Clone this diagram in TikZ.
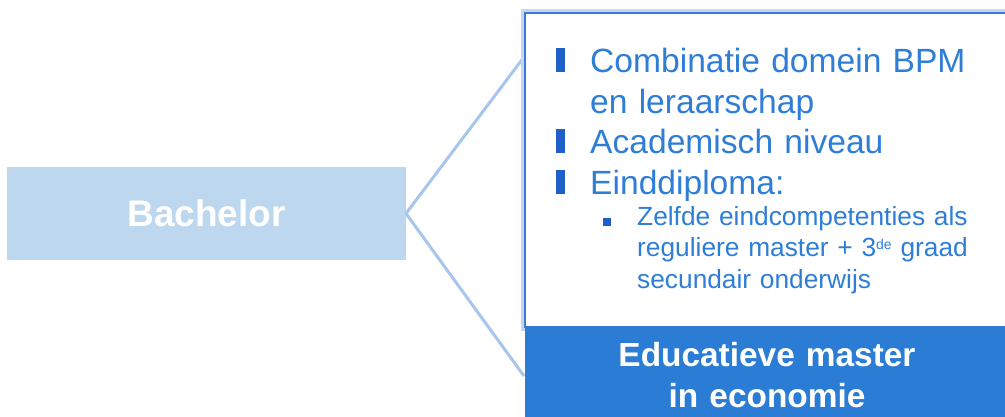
\documentclass[tikz,border=0pt]{standalone}
\usepackage{fontspec}
\setmainfont{Liberation Sans}
\newlength{\du}
\setlength{\du}{1pt}
\definecolor{bachfill}{RGB}{189,215,238}
\definecolor{linkline}{RGB}{168,197,235}
\definecolor{frameblue}{RGB}{58,123,213}
\definecolor{textblue}{RGB}{46,126,216}
\definecolor{bulletblue}{RGB}{31,95,200}
\definecolor{masterfill}{RGB}{42,124,212}
\tikzset{
  box/.style={rectangle, inner sep=0pt, outer sep=0pt},
  link/.style={draw=linkline, line width=3\du},
  item/.style={anchor=base west, inner sep=0pt, text=textblue, align=left,
    text width=400\du, font=\fontsize{33.6}{41}\selectfont},
  subitem/.style={anchor=base west, inner sep=0pt, text=textblue, align=left,
    text width=360\du, font=\fontsize{26.3}{31.5}\selectfont},
  bar/.style={box, anchor=south west, fill=bulletblue, minimum width=9\du, minimum height=24\du},
  dot/.style={box, anchor=south west, fill=bulletblue, minimum width=8\du, minimum height=8\du}
}

\begin{document}
\begin{tikzpicture}
\pgftransformxscale{1.000000}
\pgftransformyscale{-1.000000}
\useasboundingbox (0\du,0\du) rectangle (1005\du,416\du);
% left box
\node[box, fill=bachfill, minimum width=399\du, minimum height=93\du, text=white,
  font=\bfseries\fontsize{37}{44}\selectfont] (bachelor) at (206.5\du,213.5\du) {Bachelor};
\coordinate (topend) at (524\du,57\du);
\coordinate (botend) at (524\du,376\du);
\draw[link] (bachelor.east) -- (topend);
\draw[link] (bachelor.east) -- (botend);
% right boxes
\node[box, fill=white, draw=frameblue, line width=2\du,
  preaction={draw=frameblue!30, line width=8\du},
  minimum width=490\du, minimum height=314\du] (info) at (770\du,170\du) {};
\node[box, fill=masterfill, minimum width=490\du, minimum height=110\du] (master) at (770\du,382\du) {};
\node[anchor=base, inner sep=0pt, text=white, align=center, text width=400\du,
  font=\bfseries\fontsize{33.4}{41}\selectfont] (mastertext) at (767\du,366\du) {Educatieve master\\in economie};
% bullets
\node[bar] (barA) at (556\du,72\du) {};
\node[bar] (barB) at (556\du,153\du) {};
\node[bar] (barC) at (556\du,194\du) {};
\node[dot] (dotA) at (603\du,226\du) {};
\node[item] (combi) at (590\du,72\du) {Combinatie domein BPM\\en leraarschap};
\node[item] (niveau) at (590\du,153\du) {Academisch niveau};
\node[item] (diploma) at (590\du,194\du) {Einddiploma:};
\node[subitem] (eindcomp) at (637\du,225\du) {Zelfde eindcompetenties als\\reguliere master + 3\raisebox{7\du}{\fontsize{14}{14}\selectfont de} graad\\secundair onderwijs};
\end{tikzpicture}
\end{document}
